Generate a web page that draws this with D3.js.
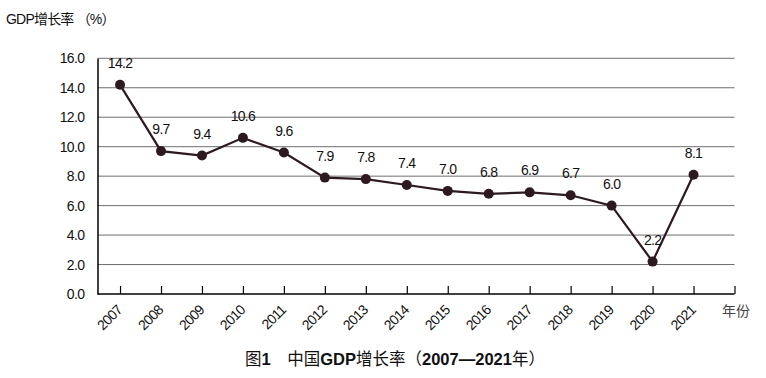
<!DOCTYPE html>
<html><head><meta charset="utf-8">
<script src="https://cdn.jsdelivr.net/npm/d3@7/dist/d3.min.js"></script>
<style>
html,body{margin:0;padding:0;background:#fff;}
svg text{font-family:"Liberation Sans",Arial,"Noto Sans CJK SC",sans-serif;}
</style></head>
<body><svg id="c" width="766" height="378"></svg>
<script>
const years = ["2007","2008","2009","2010","2011","2012","2013","2014","2015","2016","2017","2018","2019","2020","2021"];
const growth = [14.2,9.7,9.4,10.6,9.6,7.9,7.8,7.4,7.0,6.8,6.9,6.7,6.0,2.2,8.1];
const yTicks = [0,2,4,6,8,10,12,14,16];

const svg = d3.select("#c");
const x = d3.scaleLinear().domain([-0.55, 15]).range([97.5, 734.5]);
const y = d3.scaleLinear().domain([0, 16]).range([294, 58.3]);
const col = "#2d1a20";

// gridlines
svg.append("g").selectAll("line").data(yTicks.filter(d=>d>0)).join("line")
  .attr("x1", 97.5).attr("x2", 734.5)
  .attr("y1", d=>y(d)).attr("y2", d=>y(d))
  .attr("stroke", "#6e6e6e").attr("stroke-width", 1);

// y axis
const ya = svg.append("g").attr("transform","translate(97.5,0)")
  .call(d3.axisLeft(y).tickValues(yTicks).tickSize(0).tickPadding(13).tickFormat(d3.format(".1f")));
ya.select(".domain").attr("stroke","#000").attr("stroke-width",1.5);
ya.selectAll("text").attr("font-size",14).attr("fill","#111").style("letter-spacing","-0.6px");

// x axis
const xa = svg.append("g").attr("transform","translate(0,294)")
  .call(d3.axisBottom(x).tickValues(d3.range(0,16)).tickSizeOuter(0).tickSizeInner(-8).tickFormat(""));
xa.select(".domain").attr("d","M97.5,0H734.5").attr("stroke","#000").attr("stroke-width",1.5);
xa.selectAll(".tick line").attr("stroke","#000").attr("stroke-width",1.2);

// x labels rotated
svg.append("g").selectAll("text").data(years).join("text")
  .attr("transform",(d,i)=>`translate(${x(i)+3},${311}) rotate(-45)`)
  .attr("text-anchor","end").attr("font-size",14).attr("fill","#111")
  .style("letter-spacing","-0.7px")
  .text(d=>d);

// line
svg.append("path").datum(growth)
  .attr("d", d3.line().x((d,i)=>x(i)).y(d=>y(d)))
  .attr("fill","none").attr("stroke",col).attr("stroke-width",2.2);

svg.append("g").selectAll("circle").data(growth).join("circle")
  .attr("cx",(d,i)=>x(i)).attr("cy",d=>y(d)).attr("r",5)
  .attr("fill",col);

// value labels
svg.append("g").selectAll("text").data(growth).join("text")
  .attr("x",(d,i)=>x(i)).attr("y",d=>y(d)-17)
  .attr("text-anchor","middle").attr("font-size",14).attr("fill","#111")
  .style("letter-spacing","-0.7px")
  .text(d=>d3.format(".1f")(d));

// axis titles
svg.append("text").attr("x",6).attr("y",24).attr("font-size",14).attr("fill","#111")
  .style("letter-spacing","-0.8px").text("GDP增长率 （%）");
svg.append("text").attr("x",722).attr("y",316).attr("font-size",14).attr("fill","#444").text("年份");

// caption
const cap = svg.append("text").attr("x",395).attr("y",365).attr("text-anchor","middle")
  .attr("font-size",16.5).attr("fill","#111");
cap.append("tspan").text("图");
cap.append("tspan").attr("font-weight","bold").text("1");
cap.append("tspan").text("\u2003中国");
cap.append("tspan").attr("font-weight","bold").text("GDP");
cap.append("tspan").text("增长率（");
cap.append("tspan").attr("font-weight","bold").text("2007—2021");
cap.append("tspan").text("年）");
</script></body></html>
